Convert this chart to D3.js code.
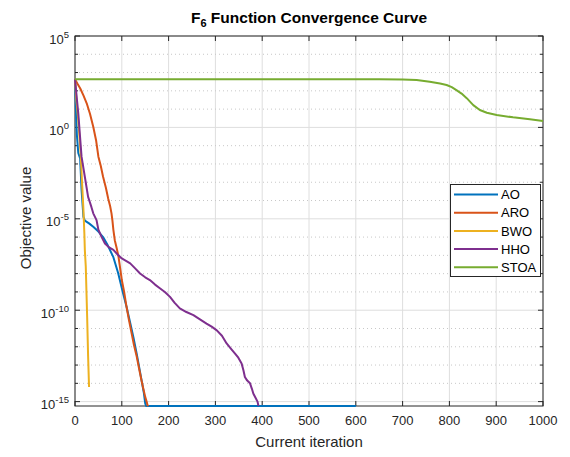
<!DOCTYPE html>
<html><head><meta charset="utf-8">
<script src="https://cdn.jsdelivr.net/npm/d3@7"></script>
<style>body{margin:0;background:#fff;} svg{display:block;font-family:"Liberation Sans",Arial,Helvetica,sans-serif;}</style>
</head><body>
<svg id="c" width="570" height="457"></svg>
<script>
// ---- data (iteration, log10 of objective value) ----
const seriesNames = ["AO", "ARO", "BWO", "HHO", "STOA"];
const seriesColors = ["#0072BD", "#D95319", "#EDB120", "#7E2F8E", "#77AC30"];

const aoIter = [0, 2, 4, 7, 11, 14, 18, 21, 30, 39, 50, 60, 70, 82, 92, 103, 110, 118, 125, 132, 142, 147, 150, 152, 600];
const aoLog  = [2.63, 1.0, -0.4, -1.4, -1.7, -3.4, -4.9, -5.1, -5.25, -5.44, -5.7, -6.0, -6.45, -7.1, -7.95, -9.1, -9.8, -10.7, -11.5, -12.4, -13.8, -14.5, -15.1, -15.24, -15.24];

const aroIter = [0, 5, 11, 18, 25, 32, 39, 45, 50, 55, 60, 66, 71, 75, 78, 80, 82, 85, 89, 93, 97, 100, 105, 110, 115, 121, 126, 132, 137, 142, 146, 150, 153, 155, 157];
const aroLog  = [2.63, 2.4, 2.14, 1.75, 1.32, 0.75, 0.04, -0.7, -1.6, -2.1, -2.7, -3.3, -3.9, -4.3, -4.7, -5.1, -5.6, -6.17, -6.6, -7.08, -7.8, -8.35, -9.0, -9.8, -10.5, -11.27, -11.9, -12.55, -13.2, -13.83, -14.3, -14.74, -15.0, -15.2, -15.24];

const bwoIter = [0, 3, 7, 12, 15, 18, 20, 21, 23, 26, 28, 30];
const bwoLog  = [2.63, 1.5, 0.4, -1.4, -3.0, -4.5, -5.8, -6.7, -7.6, -10.4, -12.5, -14.2];

const hhoIter = [0, 7, 14, 21, 28, 35, 39, 46, 50, 57, 64, 72, 82, 91, 100, 109, 118, 128, 139, 150, 160, 171, 182, 192, 203, 213, 224, 238, 253, 267, 281, 292, 303, 314, 324, 333, 342, 349, 356, 360, 363, 368, 374, 378, 381, 386, 390, 392];
const hhoLog  = [2.63, 0.77, -1.6, -2.7, -3.8, -4.35, -4.7, -5.07, -5.6, -6.0, -6.35, -6.55, -6.7, -6.95, -7.17, -7.3, -7.44, -7.7, -7.99, -8.2, -8.35, -8.6, -8.81, -9.0, -9.27, -9.6, -9.9, -10.1, -10.27, -10.5, -10.73, -10.9, -11.1, -11.4, -11.82, -12.1, -12.37, -12.6, -12.92, -13.3, -13.65, -13.85, -14.0, -14.3, -14.56, -14.8, -15.0, -15.24];

const stoaIter = [0, 100, 200, 300, 400, 500, 600, 650, 700, 730, 758, 780, 794, 805, 815, 826, 837, 851, 865, 880, 901, 936, 972, 1000];
const stoaLog  = [2.63, 2.63, 2.63, 2.63, 2.63, 2.63, 2.63, 2.63, 2.62, 2.59, 2.5, 2.4, 2.32, 2.2, 2.04, 1.85, 1.6, 1.22, 0.95, 0.8, 0.68, 0.55, 0.44, 0.35];

const xTicks = [0, 100, 200, 300, 400, 500, 600, 700, 800, 900, 1000];
const yMajorExp = [-15, -10, -5, 0, 5];
const yMinorExp = [-14, -13, -12, -11, -9, -8, -7, -6, -4, -3, -2, -1, 1, 2, 3, 4];
const yMinLog = -15.24, yMaxLog = 5;

const series = [
  {name: seriesNames[0], color: seriesColors[0], it: aoIter, lg: aoLog},
  {name: seriesNames[1], color: seriesColors[1], it: aroIter, lg: aroLog},
  {name: seriesNames[2], color: seriesColors[2], it: bwoIter, lg: bwoLog},
  {name: seriesNames[3], color: seriesColors[3], it: hhoIter, lg: hhoLog},
  {name: seriesNames[4], color: seriesColors[4], it: stoaIter, lg: stoaLog}
];

// ---- layout ----
const L = 75, R = 543, T = 36, B = 406;
const svg = d3.select("#c");
const x = d3.scaleLinear().domain([0, 1000]).range([L, R]);
const y = d3.scaleLog().domain([Math.pow(10, yMinLog), Math.pow(10, yMaxLog)]).range([B, T]);
const axisCol = "#262626";

// grid
const g = svg.append("g");
g.selectAll(".vx").data(xTicks).join("line")
  .attr("x1", d => x(d)).attr("x2", d => x(d)).attr("y1", T).attr("y2", B)
  .attr("stroke", "#dedede").attr("stroke-width", 1);
g.selectAll(".hm").data(yMinorExp).join("line")
  .attr("x1", L).attr("x2", R).attr("y1", d => y(Math.pow(10, d))).attr("y2", d => y(Math.pow(10, d)))
  .attr("stroke", "#c8c8c8").attr("stroke-width", 1).attr("stroke-dasharray", "1,3");
g.selectAll(".hM").data(yMajorExp).join("line")
  .attr("x1", L).attr("x2", R).attr("y1", d => y(Math.pow(10, d))).attr("y2", d => y(Math.pow(10, d)))
  .attr("stroke", "#dedede").attr("stroke-width", 1);

// box + ticks
const ax = svg.append("g");
ax.append("rect").attr("x", L).attr("y", T).attr("width", R - L).attr("height", B - T)
  .attr("fill", "none").attr("stroke", axisCol).attr("stroke-width", 1);
const tl = 5;
xTicks.forEach(t => {
  ax.append("line").attr("x1", x(t)).attr("x2", x(t)).attr("y1", B).attr("y2", B - tl).attr("stroke", axisCol);
  ax.append("line").attr("x1", x(t)).attr("x2", x(t)).attr("y1", T).attr("y2", T + tl).attr("stroke", axisCol);
  ax.append("text").attr("x", x(t)).attr("y", B + 19).attr("text-anchor", "middle")
    .attr("font-size", 13).attr("fill", axisCol).text(t);
});
yMajorExp.concat(yMinorExp).forEach(e => {
  const yy = y(Math.pow(10, e));
  const len = yMajorExp.includes(e) ? tl : 3;
  ax.append("line").attr("x1", L).attr("x2", L + len).attr("y1", yy).attr("y2", yy).attr("stroke", axisCol);
  ax.append("line").attr("x1", R).attr("x2", R - len).attr("y1", yy).attr("y2", yy).attr("stroke", axisCol);
});
yMajorExp.forEach(e => {
  const yy = y(Math.pow(10, e));
  const t = ax.append("text").attr("x", L - 6).attr("y", yy + 7.5).attr("text-anchor", "end")
    .attr("font-size", 13).attr("fill", axisCol);
  t.append("tspan").text("10");
  t.append("tspan").attr("dy", -6).attr("font-size", 9.5).text(e);
});

// curves (drawn over the box so the bottom segment stays visible)
const line = d3.line().x(d => x(d[0])).y(d => y(Math.pow(10, d[1])));
svg.append("defs").append("clipPath").attr("id", "clip").append("rect")
  .attr("x", L - 1).attr("y", T - 2).attr("width", R - L + 3).attr("height", B - T + 4);
const cg = svg.append("g").attr("clip-path", "url(#clip)");
series.forEach(s => {
  cg.append("path").datum(s.it.map((v, i) => [v, s.lg[i]]))
    .attr("d", line).attr("fill", "none").attr("stroke", s.color)
    .attr("stroke-width", 2).attr("stroke-linejoin", "round");
});

// labels
svg.append("text").attr("x", (L + R) / 2).attr("y", 447).attr("text-anchor", "middle")
  .attr("font-size", 15).attr("fill", axisCol).text("Current iteration");
svg.append("text").attr("transform", `translate(31,218) rotate(-90)`).attr("text-anchor", "middle")
  .attr("font-size", 15).attr("fill", axisCol).text("Objective value");
const title = svg.append("text").attr("x", (L + R) / 2).attr("y", 23).attr("text-anchor", "middle")
  .attr("font-size", 15.5).attr("font-weight", "bold").attr("fill", "#000");
title.append("tspan").text("F");
title.append("tspan").attr("dy", 4).attr("font-size", 11).text("6");
title.append("tspan").attr("dy", -4).text(" Function Convergence Curve");

// legend
const lg = svg.append("g");
lg.append("rect").attr("x", 450.5).attr("y", 184.5).attr("width", 90).attr("height", 92)
  .attr("fill", "#fff").attr("stroke", axisCol).attr("stroke-width", 1);
series.forEach((s, i) => {
  const yy = 194.5 + i * 18.2;
  lg.append("line").attr("x1", 454).attr("x2", 498).attr("y1", yy).attr("y2", yy)
    .attr("stroke", s.color).attr("stroke-width", 2);
  lg.append("text").attr("x", 501).attr("y", yy + 4.7).attr("font-size", 13).attr("fill", "#000").text(s.name);
});
</script>
</body></html>
